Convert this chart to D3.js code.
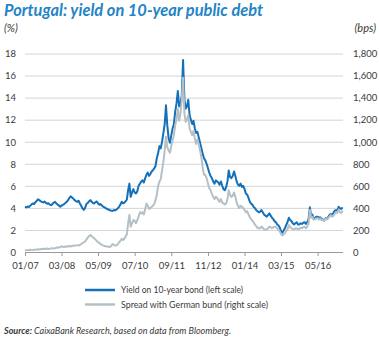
<!DOCTYPE html>
<html>
<head>
<meta charset="utf-8">
<script src="https://cdn.jsdelivr.net/npm/d3@7"></script>
<style>
  html, body { margin: 0; padding: 0; background: #ffffff; }
  svg { display: block; }
  text { font-family: Lato, "Open Sans", sans-serif; }
</style>
</head>
<body>
<svg id="chart" width="379" height="338"></svg>
<script>
// ---- Data (semi-monthly readings, Jan 2007 – Feb 2017; two values per month) ----
const startMonth = "2007-01";
const monthCount = 122;

// Yield on 10-year bond (%), left scale
const yieldValues = [
  // 2007
  4.10,4.05, 4.12,4.08, 4.18,4.30, 4.40,4.35, 4.50,4.62, 4.78,4.70,
  4.62,4.55, 4.50,4.58, 4.45,4.38, 4.42,4.30, 4.25,4.35, 4.47,4.55,
  // 2008
  4.40,4.30, 4.22,4.10, 4.20,4.28, 4.35,4.45, 4.55,4.70, 4.90,5.05,
  4.95,4.85, 4.70,4.62, 4.55,4.65, 4.40,4.20, 3.95,3.82, 4.00,4.35,
  // 2009
  4.45,4.60, 4.70,4.55, 4.45,4.40, 4.52,4.58, 4.40,4.28, 4.35,4.20,
  4.10,4.05, 3.95,3.90, 3.85,3.78, 3.75,3.72, 3.80,3.78, 3.85,3.95,
  // 2010
  4.10,4.30, 4.56,4.40, 4.45,4.60, 4.75,5.60, 6.20,5.00, 5.40,5.70,
  5.40,5.30, 5.50,6.00, 6.20,6.40, 6.50,6.30, 6.70,7.00, 7.20,6.90,
  // 2011
  7.10,7.30, 7.45,7.60, 7.80,8.50, 9.00,9.60, 9.40,10.00, 10.80,11.60,
  13.30,11.50, 10.30,9.90, 10.60,11.20, 11.60,12.70, 13.50,14.60, 13.20,13.40,
  // 2012
  14.20,17.40, 13.80,13.00, 13.20,13.80, 12.40,12.00, 11.60,11.90, 11.20,10.80,
  10.90,10.40, 9.90,9.40, 8.90,8.50, 8.30,8.00, 7.60,7.20, 6.90,6.70,
  // 2013
  6.40,6.20, 6.50,6.40, 6.30,6.10, 6.40,6.00, 5.70,5.60, 5.90,6.40,
  7.40,6.80, 6.70,6.90, 7.30,6.90, 6.40,6.10, 6.00,6.20, 5.90,6.00,
  // 2014
  5.70,5.30, 5.20,4.90, 4.60,4.40, 4.30,4.10, 4.00,3.80, 3.70,3.60,
  3.65,3.80, 3.60,3.40, 3.30,3.20, 3.35,3.50, 3.30,3.10, 3.00,2.80,
  // 2015
  2.70,2.50, 2.40,2.20, 1.90,1.75, 1.95,2.15, 2.45,2.70, 3.10,2.90,
  2.80,2.60, 2.50,2.60, 2.70,2.50, 2.50,2.60, 2.55,2.65, 2.70,2.55,
  // 2016
  2.70,2.95, 4.05,3.20, 3.40,3.00, 3.10,3.20, 3.20,3.10, 3.15,3.00,
  2.95,2.85, 3.05,3.00, 3.15,3.35, 3.45,3.35, 3.55,3.75, 3.80,3.75,
  // 2017
  4.10,3.95, 3.90,4.05
];

// Spread with German bund (bps), right scale
const spreadValues = [
  // 2007
  18,16, 17,19, 20,18, 17,20, 21,22, 24,22,
  25,28, 30,27, 29,31, 28,30, 33,35, 31,34,
  // 2008
  38,42, 40,46, 52,48, 46,50, 48,52, 55,50,
  54,58, 56,60, 62,58, 65,72, 82,88, 95,112,
  // 2009
  130,145, 155,142, 136,124, 112,100, 90,80, 72,64,
  58,55, 52,50, 48,46, 55,73, 64,58, 60,70,
  // 2010
  88,100, 120,108, 118,140, 160,260, 335,230, 260,290,
  285,260, 290,320, 360,350, 360,340, 390,440, 420,390,
  // 2011
  400,410, 420,440, 470,520, 600,640, 660,740, 820,920,
  1045,950, 920,900, 960,1010, 1060,1150, 1200,1300, 1190,1250,
  // 2012
  1380,1580, 1250,1180, 1200,1240, 1120,1090, 1060,1100, 1030,980,
  1020,980, 920,860, 760,700, 700,670, 620,580, 560,530,
  // 2013
  500,480, 500,490, 470,455, 480,450, 440,430, 440,480,
  560,520, 500,510, 540,500, 450,420, 400,420, 410,400,
  // 2014
  380,360, 370,340, 320,300, 285,270, 250,235, 220,215,
  215,230, 220,205, 200,205, 215,230, 225,215, 225,230,
  // 2015
  225,215, 200,185, 165,150, 160,170, 190,205, 245,225,
  215,210, 205,215, 215,205, 210,220, 215,225, 230,215,
  // 2016
  230,255, 380,310, 320,295, 295,305, 305,295, 305,290,
  290,285, 300,295, 305,320, 335,320, 330,345, 360,355,
  // 2017
  385,360, 355,375
];

const leftTicks = [0, 2, 4, 6, 8, 10, 12, 14, 16, 18];
const rightTicks = [0, 200, 400, 600, 800, 1000, 1200, 1400, 1600, 1800];
const xTickDates = ["2007-01", "2008-03", "2009-05", "2010-07", "2011-09", "2012-11", "2014-01", "2015-03", "2016-05"];
const xTickLabels = ["01/07", "03/08", "05/09", "07/10", "09/11", "11/12", "01/14", "03/15", "05/16"];

const titleText = "Portugal: yield on 10-year public debt";
const legendLabels = ["Yield on 10-year bond (left scale)", "Spread with German bund (right scale)"];

// ---- Build dates (two observations per month: 1st and 16th) ----
const parseMonth = d3.timeParse("%Y-%m");
const m0 = parseMonth(startMonth);
const months = d3.timeMonth.range(m0, d3.timeMonth.offset(m0, monthCount));
const dates = [];
months.forEach(m => { dates.push(m); dates.push(d3.timeDay.offset(m, 15)); });

const yieldData = dates.map((d, i) => ({ date: d, v: yieldValues[i] }));
const spreadData = dates.map((d, i) => ({ date: d, v: spreadValues[i] }));

// ---- Layout ----
const svg = d3.select("#chart");
const W = 379, H = 338;
const plotLeft = 25, plotRight = 343, plotTop = 53.5, plotBottom = 252;

const blue = "#1470b8";
const grey = "#b4c0c6";
const titleBlue = "#2384c6";
const textCol = "#3a3a3a";
const gridCol = "#d4d4d4";

const x = d3.scaleTime()
  .domain([m0, d3.timeDay.offset(months[months.length - 1], 15)])
  .range([plotLeft, 342.6]);
const yL = d3.scaleLinear().domain([0, 18]).range([plotBottom, plotTop]);
const yR = d3.scaleLinear().domain([0, 1800]).range([plotBottom, plotTop]);

// Title
svg.append("text")
  .attr("x", 4).attr("y", 16)
  .attr("fill", titleBlue)
  .attr("font-size", 17).attr("font-weight", 700).attr("font-style", "italic")
  .attr("textLength", 259).attr("lengthAdjust", "spacingAndGlyphs")
  .text(titleText);

// Unit labels
svg.append("text").attr("x", 4).attr("y", 32)
  .attr("fill", textCol).attr("font-size", 11).attr("font-style", "italic").text("(%)");
svg.append("text").attr("x", 376).attr("y", 32).attr("text-anchor", "end")
  .attr("fill", textCol).attr("font-size", 11).attr("font-style", "italic").text("(bps)");

// Gridlines (left axis with long ticks)
const gridAxis = d3.axisLeft(yL).tickValues(leftTicks.slice(1))
  .tickSize(-(plotRight - plotLeft)).tickFormat("");
const gg = svg.append("g").attr("transform", `translate(${plotLeft},0)`).call(gridAxis);
gg.select(".domain").remove();
gg.selectAll("line").attr("stroke", gridCol).attr("stroke-width", 1);

// Left tick labels
const la = d3.axisLeft(yL).tickValues(leftTicks).tickSize(0).tickPadding(0)
  .tickFormat(d3.format("d"));
const lg = svg.append("g").attr("transform", "translate(16,0)").call(la);
lg.select(".domain").remove();
lg.selectAll("text").attr("fill", textCol).attr("font-size", 9.5)
  .attr("font-family", "Lato, sans-serif").attr("dy", "0.35em");

// Right tick labels
const ra = d3.axisRight(yR).tickValues(rightTicks).tickSize(0).tickPadding(0)
  .tickFormat(d3.format(","));
const rg = svg.append("g").attr("transform", "translate(353,0)").call(ra);
rg.select(".domain").remove();
rg.selectAll("text").attr("fill", textCol).attr("font-size", 9.5)
  .attr("font-family", "Lato, sans-serif").attr("dy", "0.35em");

// X axis
const xa = d3.axisBottom(x)
  .tickValues(xTickDates.map(parseMonth))
  .tickFormat((d, i) => xTickLabels[i])
  .tickSize(4).tickSizeOuter(0).tickPadding(6);
const xg = svg.append("g").attr("transform", `translate(0,${plotBottom})`).call(xa);
xg.select(".domain").attr("d", `M${plotLeft},0.5H${plotRight}`).attr("stroke", "#9a9a9a");
xg.selectAll(".tick line").attr("stroke", "#9a9a9a");
xg.selectAll("text").attr("fill", textCol).attr("font-size", 9.5)
  .attr("font-family", "Lato, sans-serif");

// Lines
const lineL = d3.line().x(d => x(d.date)).y(d => yL(d.v));
const lineR = d3.line().x(d => x(d.date)).y(d => yR(d.v));

svg.append("path").datum(yieldData)
  .attr("fill", "none").attr("stroke", blue).attr("stroke-width", 2)
  .attr("stroke-linejoin", "round").attr("d", lineL);
svg.append("path").datum(spreadData)
  .attr("fill", "none").attr("stroke", grey).attr("stroke-width", 2)
  .attr("stroke-linejoin", "round").attr("d", lineR);

// Legend
const legend = [
  { label: legendLabels[0], color: blue, y: 290, w: 122 },
  { label: legendLabels[1], color: grey, y: 304.5, w: 147 }
];
legend.forEach(l => {
  svg.append("line").attr("x1", 85).attr("x2", 115).attr("y1", l.y).attr("y2", l.y)
    .attr("stroke", l.color).attr("stroke-width", 2.5);
  svg.append("text").attr("x", 121).attr("y", l.y + 3.3)
    .attr("fill", textCol).attr("font-size", 9.5)
    .attr("textLength", l.w).attr("lengthAdjust", "spacingAndGlyphs")
    .text(l.label);
});

// Source
const src = svg.append("text").attr("x", 4).attr("y", 334)
  .attr("fill", textCol).attr("font-size", 9.5).attr("font-style", "italic")
  .attr("textLength", 227).attr("lengthAdjust", "spacingAndGlyphs");
src.append("tspan").attr("font-weight", 700).text("Source: ");
src.append("tspan").text("CaixaBank Research, based on data from Bloomberg.");
</script>
</body>
</html>
